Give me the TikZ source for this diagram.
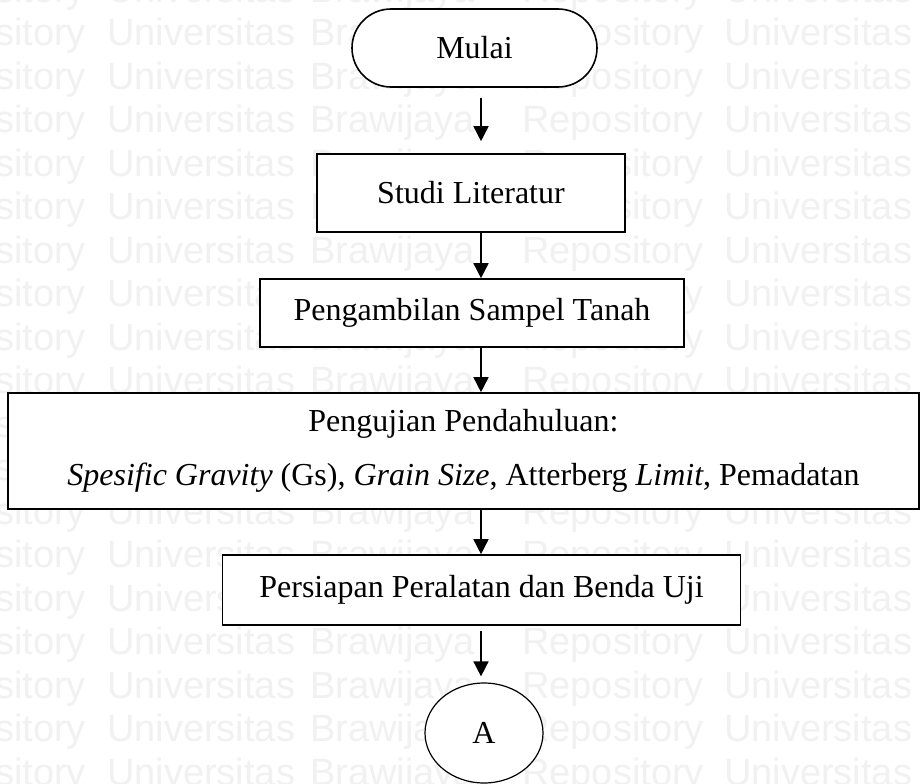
\documentclass[tikz,border=0pt]{standalone}
\usepackage{fontspec}
\setmainfont{Liberation Serif}
\newfontfamily\wmfont{Liberation Sans}
\usetikzlibrary{arrows.meta,shapes.geometric}
\definecolor{wmgray}{RGB}{241,241,241}
\begin{document}
\begin{tikzpicture}[x=1pt,y=-1pt,
  box/.style={draw=black,line width=1.6pt,fill=white,rectangle,inner sep=0pt,
              font=\fontsize{32}{38}\selectfont},
  flow/.style={line width=1.6pt,-{Triangle[width=15pt,length=15pt]}},
  wm/.style={anchor=base west,inner sep=0pt,text=wmgray,
             font=\wmfont\fontsize{38}{38}\selectfont}]
\useasboundingbox (0,0) rectangle (921,784);
\clip (0,0) rectangle (921,784);
\fill[white] (0,0) rectangle (921,784);

% background watermark rows
\foreach \k in {0,...,18}{
  \pgfmathsetmacro{\yb}{2.2+43.5*\k}
  \node[wm] (wma\k) at (-96,\yb) {Repository};
  \node[wm] (wmb\k) at (107,\yb) {Universitas};
  \node[wm] (wmc\k) at (310,\yb) {Brawijaya};
  \node[wm] (wmd\k) at (522,\yb) {Repository};
  \node[wm] (wme\k) at (724,\yb) {Universitas};
}

% flowchart steps
\node[box,rounded corners=39pt,minimum width=245pt,minimum height=78pt] (mulai) at (474.5,48) {Mulai};
\node[box,minimum width=308pt,minimum height=78pt] (studi) at (471,193) {Studi Literatur};
\node[box,minimum width=424pt,minimum height=68pt] (ambil) at (472,313) {Pengambilan Sampel Tanah};
\node[box,minimum width=911pt,minimum height=116pt,align=center,
      font=\fontsize{32}{54}\selectfont] (uji) at (463.5,451)
  {Pengujian Pendahuluan:\\
   \textit{Spesific Gravity} (Gs), \textit{Grain Size}, Atterberg \textit{Limit}, Pemadatan};
\node[box,minimum width=518pt,minimum height=70pt] (siap) at (481.5,590) {Persiapan Peralatan dan Benda Uji};
\node[draw=black,ellipse,line width=1.2pt,fill=white,minimum width=118pt,minimum height=100pt,
      inner sep=0pt,font=\fontsize{32}{38}\selectfont] (konA) at (484,733) {A};

% connectors along a common vertical axis
\coordinate (ax) at (481,0);
\draw[flow,shorten <=10pt,shorten >=12pt] (mulai.south -| ax) -- (studi.north -| ax);
\draw[flow] (studi.south -| ax) -- (ambil.north -| ax);
\draw[flow] (ambil.south -| ax) -- (uji.north -| ax);
\draw[flow] (uji.south -| ax) -- (siap.north -| ax);
\draw[flow,shorten <=5pt,shorten >=6pt] (siap.south -| ax) -- (konA.north -| ax);
\end{tikzpicture}
\end{document}
